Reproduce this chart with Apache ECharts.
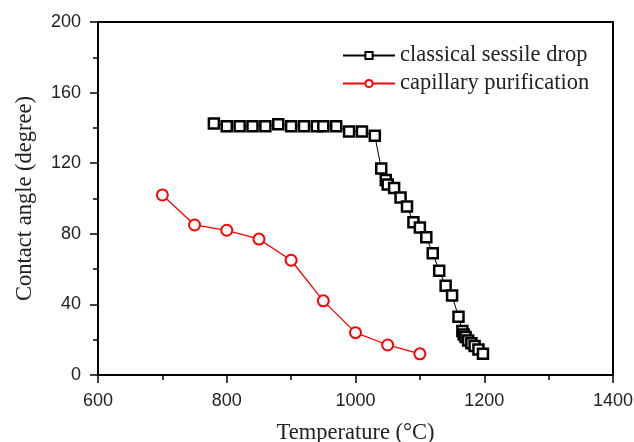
<!DOCTYPE html>
<html>
<head>
<meta charset="utf-8">
<script src="https://cdn.jsdelivr.net/npm/echarts@6/dist/echarts.min.js"></script>
<style>
  html, body { margin: 0; padding: 0; background: #fff; }
  #chart { width: 634px; height: 442px; }
</style>
</head>
<body>
<div id="chart"></div>
<script>
// classical sessile drop (temperature, angle)
var sessileTemp = [780, 800, 820, 840, 860, 880, 900, 920, 940, 950, 970, 990, 1010, 1030,
  1040, 1047, 1050, 1060, 1070, 1080, 1090, 1100, 1110, 1120, 1130, 1140, 1150, 1160,
  1166, 1168, 1171, 1175, 1180, 1185, 1191, 1198];
var sessileAngle = [142.5, 141, 141, 141, 141, 142, 141, 141, 141, 141, 141, 138, 138, 135.5,
  117, 110.5, 108, 106, 100.5, 95.5, 86.5, 83.5, 78, 69, 59, 50.5, 45, 33,
  25, 23, 21.5, 19.5, 18, 16.5, 14.5, 12];

// capillary purification
var capTemp = [700, 750, 800, 850, 900, 950, 1000, 1050, 1100];
var capAngle = [102, 85, 82, 77, 65, 42, 24, 17, 12];

function pairs(xs, ys) {
  return xs.map(function (x, i) { return [x, ys[i]]; });
}

var chart = echarts.init(document.getElementById('chart'));

var option = {
  animation: false,
  grid: {
    left: 98, right: 21, top: 22, bottom: 67,
    outerBoundsMode: 'none',
    show: true, borderColor: '#000', borderWidth: 2, backgroundColor: 'transparent'
  },
  legend: {
    orient: 'vertical',
    left: 337, top: 39,
    itemWidth: 52, itemHeight: 9, itemGap: 5,
    textStyle: { fontFamily: 'Liberation Serif', fontSize: 22.5, color: '#222' },
    data: ['classical sessile drop', 'capillary purification']
  },
  xAxis: {
    type: 'value', min: 600, max: 1400, interval: 200,
    name: 'Temperature (°C)', nameLocation: 'middle', nameGap: 47,
    nameTextStyle: { fontFamily: 'Liberation Serif', fontSize: 22.5, color: '#222' },
    axisLine: { lineStyle: { color: '#000', width: 2 } },
    axisTick: { inside: false, length: 8, lineStyle: { color: '#000', width: 1.5 } },
    minorTick: { show: true, splitNumber: 2, length: 5, lineStyle: { color: '#000', width: 1.5 } },
    axisLabel: {
      margin: 17, fontFamily: 'Liberation Sans', fontSize: 18, color: '#222',
      formatter: function (v) { return String(v); }
    },
    splitLine: { show: false }
  },
  yAxis: {
    type: 'value', min: 0, max: 200, interval: 40,
    name: 'Contact angle (degree)', nameLocation: 'middle', nameGap: 61,
    nameTextStyle: { fontFamily: 'Liberation Serif', fontSize: 22.5, color: '#222' },
    axisLine: { lineStyle: { color: '#000', width: 2 } },
    axisTick: { inside: false, length: 8, lineStyle: { color: '#000', width: 1.5 } },
    minorTick: { show: true, splitNumber: 2, length: 5, lineStyle: { color: '#000', width: 1.5 } },
    axisLabel: { margin: 17, fontFamily: 'Liberation Sans', fontSize: 18, color: '#222' },
    splitLine: { show: false }
  },
  series: [
    {
      name: 'classical sessile drop',
      type: 'line',
      data: pairs(sessileTemp, sessileAngle),
      symbol: 'rect', symbolSize: 10,
      showAllSymbol: true,
      color: '#000',
      lineStyle: { color: '#000', width: 1 },
      itemStyle: { color: '#fff', borderColor: '#000', borderWidth: 2.5 }
    },
    {
      name: 'capillary purification',
      type: 'line',
      data: pairs(capTemp, capAngle),
      symbol: 'circle', symbolSize: 11,
      showAllSymbol: true,
      color: '#f00',
      lineStyle: { color: '#f00', width: 1.3 },
      itemStyle: { color: '#fff', borderColor: '#f00', borderWidth: 2 }
    }
  ]
};

chart.setOption(option);
</script>
</body>
</html>
